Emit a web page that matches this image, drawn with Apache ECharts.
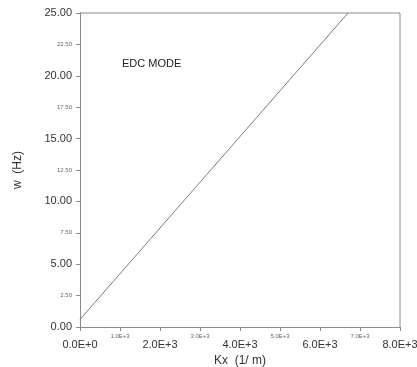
<!DOCTYPE html>
<html>
<head>
<meta charset="utf-8">
<script src="https://cdn.jsdelivr.net/npm/echarts@6/dist/echarts.min.js"></script>
<style>
  html, body { margin: 0; padding: 0; background: #fff; }
  #chart { width: 417px; height: 367px; }
</style>
</head>
<body>
<div id="chart"></div>
<script>
// Dispersion line: wave number Kx (1/m) against frequency w (Hz)
const kxValues = [0, 6700];
const wValues = [0.6, 25];

// Axis ranges and tick spacing
const xTicks = [0, 1000, 2000, 3000, 4000, 5000, 6000, 7000, 8000];
const yTicks = [0, 2.5, 5, 7.5, 10, 12.5, 15, 17.5, 20, 22.5, 25];

const modeLabel = 'EDC MODE';
const xName = 'Kx  (1/ m)';
const yName = 'w  (Hz)';

const font = 'Liberation Sans, Arial, sans-serif';
const axisGrey = '#8a8a8a';

function xLabel(v) {
  const mant = (v / 1000).toFixed(1);
  const txt = v === 0 ? '0.0E+0' : mant + 'E+3';
  return (Math.round(v / 1000) % 2 === 0) ? '{big|' + txt + '}' : '{small|' + txt + '}';
}
function yLabel(v) {
  const txt = v.toFixed(2);
  return (Math.round(v / 2.5) % 2 === 0) ? '{big|' + txt + '}' : '{small|' + txt + '}';
}

const chart = echarts.init(document.getElementById('chart'), null, { renderer: 'canvas' });
chart.setOption({
  animation: false,
  backgroundColor: '#fff',
  grid: { left: 80, right: 17, top: 13, bottom: 40, containLabel: false, outerBoundsMode: 'none', show: false },
  title: {
    text: modeLabel,
    left: 122, top: 58, padding: 0,
    textStyle: { fontFamily: font, fontSize: 11, fontWeight: 'normal', color: '#222' }
  },
  xAxis: {
    type: 'value',
    min: xTicks[0], max: xTicks[xTicks.length - 1], interval: 1000,
    name: xName, nameLocation: 'middle', nameGap: 23,
    nameTextStyle: { fontFamily: font, fontSize: 12, color: '#333' },
    axisLine: { show: true, lineStyle: { color: axisGrey, width: 1 } },
    axisTick: { show: true, length: 4, lineStyle: { color: axisGrey } },
    splitLine: { show: false },
    axisLabel: {
      margin: 6,
      formatter: xLabel,
      rich: {
        big: { fontFamily: font, fontSize: 11, color: '#333', padding: [6, 0, 0, 0] },
        small: { fontFamily: font, fontSize: 6, color: '#666', padding: [0, 0, 6, 0] }
      }
    }
  },
  yAxis: {
    type: 'value',
    min: yTicks[0], max: yTicks[yTicks.length - 1], interval: 2.5,
    name: yName, nameLocation: 'middle', nameGap: 56,
    nameTextStyle: { fontFamily: font, fontSize: 12, color: '#333' },
    axisLine: { show: true, lineStyle: { color: axisGrey, width: 1 } },
    axisTick: { show: true, length: 4, lineStyle: { color: axisGrey } },
    splitLine: { show: false },
    axisLabel: {
      margin: 8,
      formatter: yLabel,
      rich: {
        big: { fontFamily: font, fontSize: 11, color: '#333' },
        small: { fontFamily: font, fontSize: 6, color: '#666' }
      }
    }
  },
  series: [
    {
      type: 'line',
      data: kxValues.map((k, i) => [k, wValues[i]]),
      showSymbol: false,
      lineStyle: { color: '#7a7a7a', width: 1 },
      silent: true
    }
  ]
});

// Draw the top/right border of the plot area from the grid's pixel rect
const rect = chart.getModel().getComponent('grid').coordinateSystem.getRect();
chart.setOption({
  graphic: [{
    type: 'polyline',
    shape: { points: [[rect.x, rect.y], [rect.x + rect.width, rect.y], [rect.x + rect.width, rect.y + rect.height]] },
    style: { stroke: axisGrey, lineWidth: 1, fill: null },
    silent: true
  }]
});
</script>
</body>
</html>
